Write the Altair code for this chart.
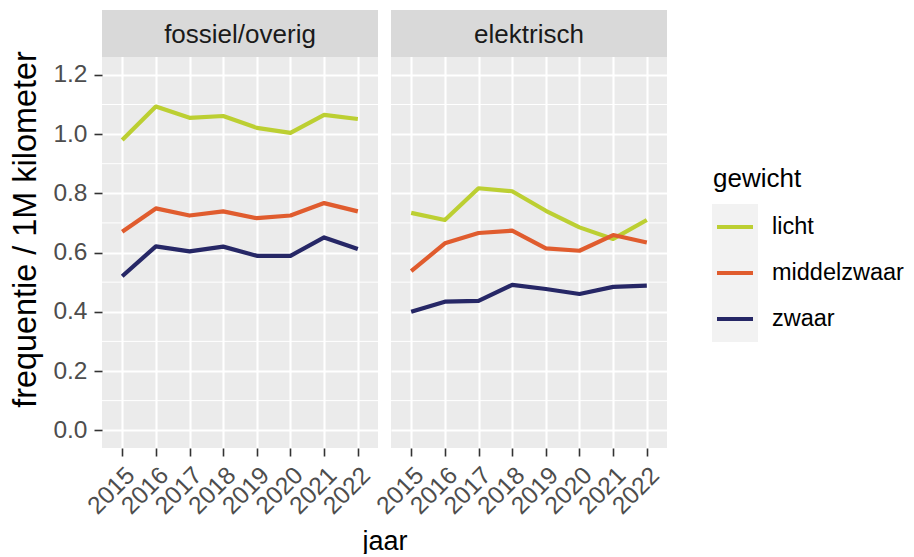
import altair as alt
import pandas as pd

YEARS = [2015, 2016, 2017, 2018, 2019, 2020, 2021, 2022]
FACETS = ["fossiel/overig", "elektrisch"]
GROUPS = ["licht", "middelzwaar", "zwaar"]
COLORS = ["#BCCF32", "#E05C2E", "#262766"]

FOSSIEL_LICHT = [0.980, 1.093, 1.055, 1.061, 1.021, 1.004, 1.065, 1.051]
FOSSIEL_MIDDELZWAAR = [0.670, 0.749, 0.725, 0.739, 0.716, 0.725, 0.767, 0.739]
FOSSIEL_ZWAAR = [0.520, 0.621, 0.604, 0.620, 0.589, 0.589, 0.651, 0.612]
ELEKTRISCH_LICHT = [0.734, 0.710, 0.817, 0.807, 0.741, 0.685, 0.646, 0.710]
ELEKTRISCH_MIDDELZWAAR = [0.537, 0.631, 0.666, 0.674, 0.614, 0.606, 0.659, 0.634]
ELEKTRISCH_ZWAAR = [0.400, 0.434, 0.437, 0.491, 0.477, 0.460, 0.484, 0.488]

Y_TICKS = [0.0, 0.2, 0.4, 0.6, 0.8, 1.0, 1.2]
Y_MINOR = [0.1, 0.3, 0.5, 0.7, 0.9, 1.1]

SERIES = {
    "fossiel/overig": [FOSSIEL_LICHT, FOSSIEL_MIDDELZWAAR, FOSSIEL_ZWAAR],
    "elektrisch": [ELEKTRISCH_LICHT, ELEKTRISCH_MIDDELZWAAR, ELEKTRISCH_ZWAAR],
}

rows = []
for f in FACETS:
    for g, vals in zip(GROUPS, SERIES[f]):
        for y, v in zip(YEARS, vals):
            rows.append({"brandstof": f, "gewicht": g, "jaar": str(y), "freq": v})
df = pd.DataFrame(rows)

FONT = "Liberation Sans"
W = 276
H = 438
STRIP = 47
GAP = 13
Y_DOMAIN = [-0.06, 1.419]
LW = 4.2

color_scale = alt.Scale(domain=GROUPS, range=COLORS)
y_scale = alt.Scale(domain=Y_DOMAIN, nice=False, zero=False)
x_scale = alt.Scale(type="point", padding=0.6)

tick_style = dict(tickSize=8, tickColor="#333333", tickWidth=1.6, domain=False,
                  grid=True, gridColor="#FFFFFF", gridWidth=2.1)
xlabel_style = dict(labelAngle=-45, labelAlign="right", labelBaseline="top",
                    labelFontSize=24.5, labelColor="#4D4D4D", labelPadding=7)


def panel(facet, first):
    d = df[df["brandstof"] == facet]
    if first:
        yaxis = alt.Axis(values=Y_TICKS, format=".1f", title="frequentie / 1M kilometer",
                         titleFontSize=32.4, titleFontWeight="normal", titleColor="#000000",
                         titlePadding=10, labelFontSize=24.5, labelColor="#4D4D4D",
                         labelPadding=7, **tick_style)
        xaxis = alt.Axis(title="jaar", titleFontSize=27, titleFontWeight="normal",
                         titleColor="#000000", titleX=(2 * W + GAP) / 2, titleY=101,
                         titleAlign="center", titleBaseline="alphabetic",
                         **xlabel_style, **tick_style)
    else:
        yaxis = alt.Axis(values=Y_TICKS, title=None, labels=False, ticks=False,
                         domain=False, grid=True, gridColor="#FFFFFF", gridWidth=2.1,
                         minExtent=0, maxExtent=0)
        xaxis = alt.Axis(title=None, **xlabel_style, **tick_style)

    base = alt.Chart(d)
    lines = base.mark_line(strokeWidth=LW, strokeJoin="round", strokeCap="butt").encode(
        x=alt.X("jaar:O", scale=x_scale, axis=xaxis, sort=[str(y) for y in YEARS]),
        y=alt.Y("freq:Q", scale=y_scale, axis=yaxis),
        color=alt.Color("gewicht:N", scale=color_scale, legend=None),
        detail="gewicht:N",
    )
    minor = alt.Chart(pd.DataFrame({"v": Y_MINOR})).mark_rule(
        color="#FFFFFF", strokeWidth=1.0
    ).encode(y=alt.Y("v:Q", scale=y_scale, axis=yaxis))
    strip_data = pd.DataFrame({"naam": [facet]})
    strip = alt.Chart(strip_data).mark_rect(color="#D9D9D9").encode(
        x=alt.value(0), x2=alt.value(W), y=alt.value(0), y2=alt.value(STRIP)
    )
    strip_text = alt.Chart(strip_data).mark_text(
        font=FONT, fontSize=26, color="#1A1A1A", baseline="middle", align="center"
    ).encode(text="naam:N", x=alt.value(W / 2), y=alt.value(STRIP / 2 + 1))
    return alt.layer(minor, lines, strip, strip_text).properties(
        width=W, height=H, view=alt.ViewBackground(fill="#EBEBEB", stroke=None)
    )


leg_df = pd.DataFrame({"gewicht": GROUPS})
leg_y = alt.Y("gewicht:N",
              scale=alt.Scale(type="point", domain=GROUPS, range=[217, 309], padding=0),
              axis=None)
leg_bg = alt.Chart(leg_df).mark_square(size=46 * 46, color="#F2F2F2", opacity=1).encode(
    x=alt.value(47), y=leg_y
)
leg_line = alt.Chart(leg_df).mark_rule(strokeWidth=LW).encode(
    x=alt.value(29), x2=alt.value(65), y=leg_y,
    color=alt.Color("gewicht:N", scale=color_scale, legend=None),
)
leg_text = alt.Chart(leg_df).mark_text(
    font=FONT, fontSize=23.5, align="left", baseline="middle", color="#000000"
).encode(x=alt.value(84), y=leg_y, text="gewicht:N")
leg_title = alt.Chart(pd.DataFrame({"t": ["gewicht"]})).mark_text(
    font=FONT, fontSize=26, align="left", baseline="alphabetic", color="#000000"
).encode(x=alt.value(25), y=alt.value(177), text="t:N")
legend = alt.layer(leg_bg, leg_line, leg_text, leg_title).properties(
    width=210, height=H, view=alt.ViewBackground(fill=None, stroke=None)
)

panels = alt.hconcat(panel(FACETS[0], True), panel(FACETS[1], False),
                     spacing=GAP, bounds="flush")
chart = alt.hconcat(panels, legend, spacing=20).properties(
    padding={"left": 1, "top": 2, "right": 0, "bottom": 0}
).configure_view(stroke=None).configure(font=FONT).resolve_scale(color="shared")

chart.save("out.html", embed_options={"renderer": "svg", "actions": False})
